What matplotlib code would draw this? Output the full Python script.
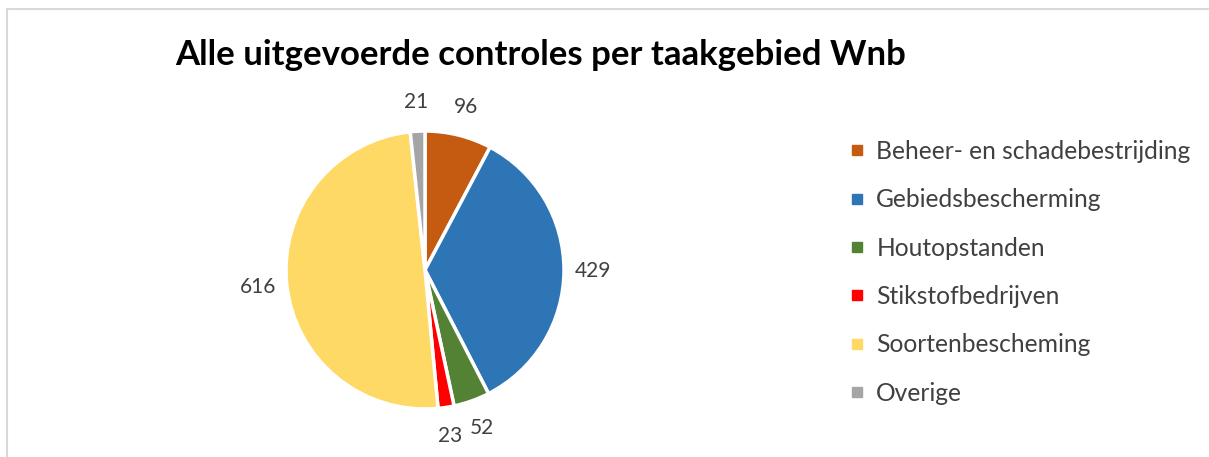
import matplotlib
matplotlib.use('Agg')
import matplotlib.pyplot as plt
from matplotlib.lines import Line2D
from matplotlib.patches import Rectangle

# data
categories = ['Beheer- en schadebestrijding', 'Gebiedsbescherming', 'Houtopstanden',
              'Stikstofbedrijven', 'Soortenbescheming', 'Overige']
values = [96, 429, 52, 23, 616, 21]
colors = ['#C55A11', '#2E75B6', '#548235', '#FF0000', '#FFD966', '#A5A5A5']
title = 'Alle uitgevoerde controles per taakgebied Wnb'

W, H = 1209, 457
fig = plt.figure(figsize=(W / 100, H / 100), dpi=100)
plt.rcParams['font.family'] = ['Lato', 'DejaVu Sans']

# light frame around chart area
fig.patches.append(Rectangle((7 / W, -0.1), 1.1, (H - 9) / H + 0.1, transform=fig.transFigure,
                             fill=False, edgecolor='#D9D9D9', linewidth=1.5))

cx, cy, r = 425, 270, 139
ax = fig.add_axes([(cx - r) / W, (H - cy - r) / H, 2 * r / W, 2 * r / H])
total = sum(values)
wedges, _, autotexts = ax.pie(values, colors=colors, startangle=90, counterclock=False,
                              radius=1, autopct=lambda p: f'{round(p * total / 100)}',
                              pctdistance=1.21,
                              wedgeprops=dict(edgecolor='white', linewidth=2.5),
                              textprops=dict(color='#404040', fontsize=15))
ax.set_xlim(-1, 1)
ax.set_ylim(-1, 1)
ax.set_aspect('equal')

fig.text(541 / W, 1 - 55 / H, title, ha='center', va='center', fontsize=25,
         fontweight='bold', color='black')

handles = [Line2D([], [], linestyle='none', marker='s', markersize=7, color=c) for c in colors]
fig.legend(handles, categories, loc='upper left', bbox_to_anchor=(848 / W, 1 - 140 / H),
           frameon=False, fontsize=17.7, labelcolor='#404040', handlelength=0.7,
           handletextpad=0.45, labelspacing=1.03, borderaxespad=0, borderpad=0)

fig.savefig('out.png', dpi=100)
